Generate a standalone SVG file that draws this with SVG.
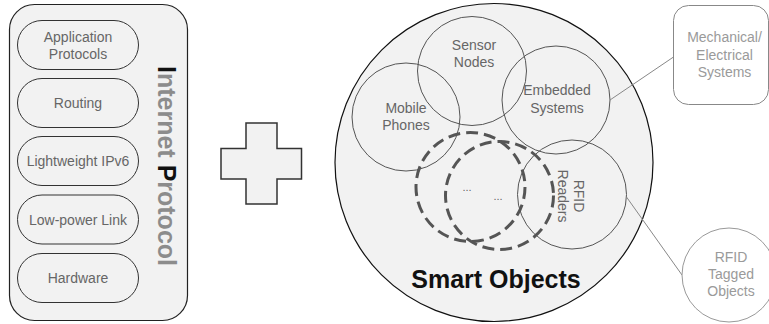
<svg xmlns="http://www.w3.org/2000/svg" width="769" height="324" viewBox="0 0 769 324">
<style>
text{font-family:"Liberation Sans",Arial,sans-serif}
.pill{fill:#f2f2f2;stroke:#333;stroke-width:1}
.pt{font-size:14px;fill:#666;text-anchor:middle}
.sub{fill:none;stroke:#555;stroke-width:1}
.st{font-size:14px;fill:#666;text-anchor:middle}
.dash{fill:none;stroke:#555;stroke-width:3;stroke-dasharray:12 6}
.lt{font-size:14px;fill:#9a9a9a;text-anchor:middle}
.conn{fill:none;stroke:#888;stroke-width:1}
</style>
<rect width="769" height="324" fill="#fff"/>
<g id="internet-protocol">
<rect x="9.5" y="4.5" width="178" height="316" rx="25" fill="#f2f2f2" stroke="#222" stroke-width="1.2"/>
<g transform="translate(158,166) rotate(90)"><text x="0" y="0" font-size="25" font-weight="bold" text-anchor="middle" fill="#8c8c8c"><tspan fill="#111">I</tspan>nternet <tspan fill="#111">P</tspan>rotocol</text></g>
</g>
<g id="app-protocols"><rect class="pill" x="17.5" y="20.5" width="121" height="49" rx="24.5"/><text class="pt" x="78" y="42">Application</text><text class="pt" x="78" y="59">Protocols</text></g>
<g id="routing"><rect class="pill" x="17.5" y="78.5" width="121" height="49" rx="24.5"/><text class="pt" x="78" y="108">Routing</text></g>
<g id="ipv6"><rect class="pill" x="17.5" y="136.5" width="121" height="49" rx="24.5"/><text class="pt" x="78" y="166">Lightweight IPv6</text></g>
<g id="lowpower"><rect class="pill" x="17.5" y="195" width="121" height="49" rx="24.5"/><text class="pt" x="78" y="224.5">Low-power Link</text></g>
<g id="hardware"><rect class="pill" x="17.5" y="253.5" width="121" height="49" rx="24.5"/><text class="pt" x="78" y="283">Hardware</text></g>
<g id="plus"><path d="M246,123 H277 V148.5 H301.5 V179 H277 V204 H246 V179 H221 V148.5 H246 Z" fill="#f2f2f2" stroke="#333" stroke-width="1.5"/></g>
<g id="smart-objects">
<circle cx="494" cy="162.5" r="159" fill="#f2f2f2" stroke="#111" stroke-width="1.2"/>
<text x="496" y="288" font-size="25" font-weight="bold" text-anchor="middle" fill="#111">Smart Objects</text>
</g>
<g id="sensor-nodes"><circle class="sub" cx="472" cy="71" r="54.5"/><text class="st" x="474" y="50">Sensor</text><text class="st" x="474" y="67">Nodes</text></g>
<g id="mobile-phones"><circle class="sub" cx="406" cy="117" r="54"/><text class="st" x="406" y="113">Mobile</text><text class="st" x="406" y="130">Phones</text></g>
<g id="embedded-systems"><circle class="sub" cx="556" cy="100" r="54"/><text class="st" x="557" y="95">Embedded</text><text class="st" x="557" y="112.5">Systems</text></g>
<g id="rfid-readers"><circle class="sub" cx="572" cy="194.5" r="54.5"/><g transform="translate(572,196) rotate(90)"><text class="st" x="0" y="-2">RFID</text><text class="st" x="0" y="14.5">Readers</text></g></g>
<g id="others">
<circle class="dash" cx="470.5" cy="187" r="54.5"/>
<circle class="dash" cx="499.5" cy="195.5" r="54"/>
<text x="467" y="191" font-size="11" fill="#666" text-anchor="middle" font-family="Liberation Sans,sans-serif">...</text>
<text x="498" y="200" font-size="11" fill="#666" text-anchor="middle">...</text>
</g>
<g id="connectors">
<line class="conn" x1="610" y1="100" x2="673.5" y2="57"/>
<line class="conn" x1="626.5" y1="197" x2="682" y2="275"/>
</g>
<g id="mech-elec"><rect x="673.5" y="5.5" width="95" height="99" rx="15" fill="#fff" stroke="#888" stroke-width="1"/><text class="lt" x="724.5" y="42">Mechanical/</text><text class="lt" x="724.5" y="60">Electrical</text><text class="lt" x="724.5" y="77">Systems</text></g>
<g id="rfid-tagged"><circle cx="729" cy="275" r="47" fill="#fff" stroke="#999" stroke-width="1"/><text class="lt" x="731" y="262">RFID</text><text class="lt" x="731" y="279">Tagged</text><text class="lt" x="731" y="296">Objects</text></g>
</svg>
